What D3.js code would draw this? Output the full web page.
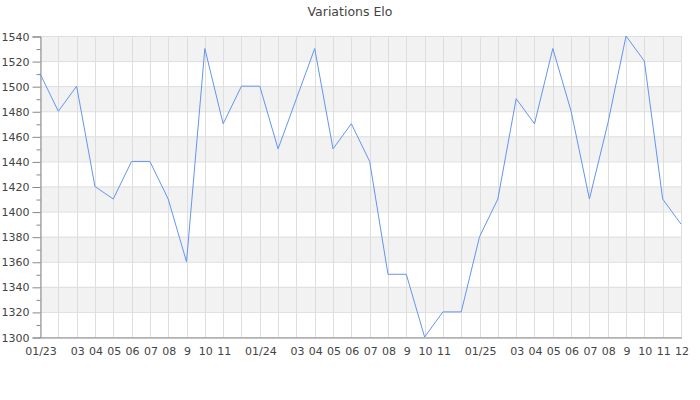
<!DOCTYPE html>
<html>
<head>
<meta charset="utf-8">
<script src="https://cdn.jsdelivr.net/npm/d3@7"></script>
<style>
  body { margin: 0; background: #fff; }
  svg { font-family: "DejaVu Sans", sans-serif; }
</style>
</head>
<body>
<div id="chart"></div>
<script>
// month labels (02 and 12 are skipped on the axis, except the final one)
const months = ["01/23","","03","04","05","06","07","08","9","10","11","",
                "01/24","","03","04","05","06","07","08","9","10","11","",
                "01/25","","03","04","05","06","07","08","9","10","11","12"]
const elo = [1510,1480,1500,1420,1410,1440,1440,1410,1360,1530,1470,1500,
             1500,1450,1490,1530,1450,1470,1440,1350,1350,1300,1320,1320,
             1380,1410,1490,1470,1530,1480,1410,1470,1540,1520,1410,1390]
const yTicks = d3.range(1300, 1541, 20)
const yMinor = d3.range(1310, 1540, 20)

const MARGIN = { TOP: 36, BOTTOM: 63, LEFT: 40, RIGHT: 19 }
const WIDTH = 700 - MARGIN.LEFT - MARGIN.RIGHT
const HEIGHT = 400 - MARGIN.TOP - MARGIN.BOTTOM

const svg = d3.select("#chart").append("svg")
	.attr("width", 700)
	.attr("height", 400)

svg.append("text")
	.attr("x", 350)
	.attr("y", 16)
	.attr("text-anchor", "middle")
	.attr("font-size", 12.5)
	.attr("fill", "#444")
	.text("Variations Elo")

const g = svg.append("g")
	.attr("transform", `translate(${MARGIN.LEFT}, ${MARGIN.TOP})`)

const x = d3.scaleLinear()
	.domain([0, elo.length - 1])
	.range([0, WIDTH])

const y = d3.scaleLinear()
	.domain([1300, 1540])
	.range([HEIGHT, 0])

// alternating bands
g.selectAll("rect.band")
	.data(yTicks.slice(0, -1).filter((d, i) => i % 2 === 1))
	.enter().append("rect")
		.attr("class", "band")
		.attr("x", 0)
		.attr("width", WIDTH)
		.attr("y", d => y(d + 20))
		.attr("height", d => y(d) - y(d + 20))
		.attr("fill", "#f2f2f2")

// grid
g.selectAll("line.hgrid")
	.data(yTicks)
	.enter().append("line")
		.attr("x1", 0).attr("x2", WIDTH)
		.attr("y1", d => y(d) + 0.5).attr("y2", d => y(d) + 0.5)
		.attr("stroke", "#dedede")

g.selectAll("line.vgrid")
	.data(d3.range(elo.length))
	.enter().append("line")
		.attr("x1", d => Math.round(x(d)) + 0.5).attr("x2", d => Math.round(x(d)) + 0.5)
		.attr("y1", 0).attr("y2", HEIGHT)
		.attr("stroke", "#dedede")

// axes
const yAxis = g.append("g")
	.attr("transform", "translate(0.5,0.5)")
	.call(d3.axisLeft(y).tickValues(yTicks).tickSize(8).tickPadding(3).tickFormat(d3.format("d")))
yAxis.append("g")
	.call(d3.axisLeft(y).tickValues(yMinor).tickSize(4).tickFormat(""))
	.select(".domain").remove()

const xAxis = g.append("g")
	.attr("transform", `translate(0.5, ${HEIGHT + 0.5})`)
	.call(d3.axisBottom(x).tickValues(d3.range(elo.length)).tickSize(0).tickPadding(10)
		.tickFormat(i => months[i]))

svg.selectAll(".domain").attr("stroke", "#888")
svg.selectAll(".tick line").attr("stroke", "#888")
svg.selectAll(".tick text")
	.attr("font-family", "DejaVu Sans, sans-serif")
	.attr("font-size", 11)
	.attr("fill", "#444")

// line
g.append("path")
	.datum(elo)
	.attr("fill", "none")
	.attr("stroke", "#6495ed")
	.attr("stroke-width", 1)
	.attr("d", d3.line().x((d, i) => x(i)).y(d => y(d)))
</script>
</body>
</html>
